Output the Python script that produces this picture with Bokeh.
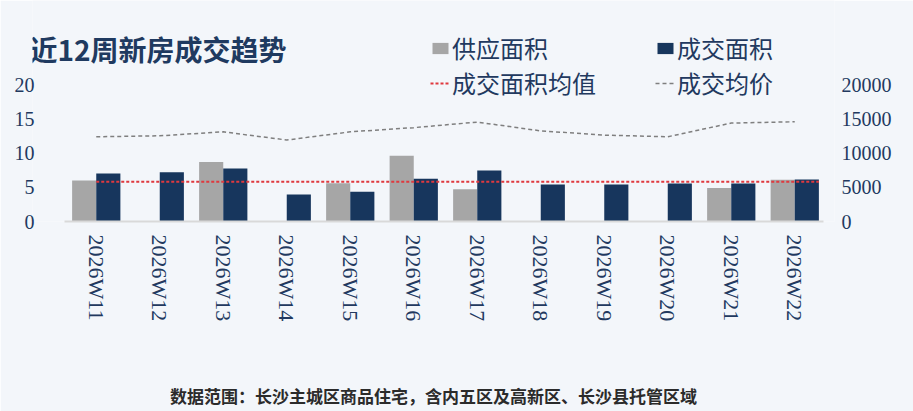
from bokeh.plotting import figure
from bokeh.models import (Range1d, LinearAxis, FixedTicker, Legend, LegendItem,
                          Label, ColumnDataSource)
from bokeh.embed import file_html
from bokeh.resources import INLINE
import math

# ---- data ----
weeks = ["2026W11", "2026W12", "2026W13", "2026W14", "2026W15", "2026W16",
         "2026W17", "2026W18", "2026W19", "2026W20", "2026W21", "2026W22"]
supply_area = [6.0, 0, 8.7, 0, 5.6, 9.6, 4.7, 0, 0, 0, 4.9, 6.1]
deal_area = [7.0, 7.2, 7.75, 3.95, 4.35, 6.25, 7.45, 5.4, 5.4, 5.55, 5.55, 6.15]
deal_area_avg = 5.8
avg_price = [12380, 12520, 13100, 11900, 13100, 13710, 14520, 13240, 12620,
             12380, 14380, 14570]
left_ticks = [0, 5, 10, 15, 20]
right_ticks = [0, 5000, 10000, 15000, 20000]

title_text = "近12周新房成交趋势"
legend_labels = ["供应面积", "成交面积", "成交面积均值", "成交均价"]
note_text = "数据范围：长沙主城区商品住宅，含内五区及高新区、长沙县托管区域"

BG = "#f3f6fa"
NAVY = "#17365d"
GRAY = "#a6a6a6"
TXT = "#22395f"

# frame extends above the 0-20 scale (up to the top edge) so that title and
# legend sit inside it
PX_PER_UNIT = 7.0
Y_TOP = 226 / PX_PER_UNIT
X_START, X_END = -1.004, 11.626

idx = list(range(len(weeks)))
src = ColumnDataSource(dict(x=idx, supply=supply_area, deal=deal_area,
                            price=avg_price,
                            xs=[i - 0.19 for i in idx], xd=[i + 0.19 for i in idx]))

p = figure(width=913, height=411, output_backend="svg", toolbar_location=None,
           x_range=Range1d(X_START, X_END), y_range=Range1d(0, Y_TOP),
           min_border_left=32, min_border_right=79, min_border_top=0,
           min_border_bottom=185, background_fill_color=BG,
           border_fill_color=BG, outline_line_color=None)
p.extra_y_ranges = {"price": Range1d(0, Y_TOP * 1000)}
p.xgrid.grid_line_color = None
p.ygrid.grid_line_color = None

r_sup = p.vbar(x="xs", top="supply", width=0.38, source=src, fill_color=GRAY,
               line_color=None)
r_deal = p.vbar(x="xd", top="deal", width=0.38, source=src, fill_color=NAVY,
                line_color=None)
r_avg = p.line(x=[idx[0], idx[-1] + 0.38], y=[deal_area_avg, deal_area_avg],
               line_color="#e0393e", line_width=2, line_dash="3 2")
r_price = p.line(x="x", y="price", source=src, y_range_name="price",
                 line_color="#7f7f7f", line_width=1.5, line_dash="4 3")

# axes
xa = p.xaxis[0]
xa.ticker = FixedTicker(ticks=idx)
xa.bounds = (idx[0] - 0.5, idx[-1] + 0.45)
xa.major_label_overrides = {i: w for i, w in zip(idx, weeks)}
xa.major_label_orientation = -math.pi / 2
xa.axis_line_color = "#d9d9d9"
xa.axis_line_width = 2
xa.major_tick_line_color = None
xa.minor_tick_line_color = None
xa.major_tick_out = 0
xa.major_label_standoff = 13
xa.major_label_text_font = "Liberation Serif"
xa.major_label_text_font_size = "22px"
xa.major_label_text_color = TXT
xa.axis_label = note_text
xa.axis_label_standoff = 59
xa.axis_label_text_font = "Noto Sans CJK SC"
xa.axis_label_text_font_style = "bold"
xa.axis_label_text_font_size = "17px"
xa.axis_label_text_color = "#2b2b2b"

ya = p.yaxis[0]
ya.ticker = FixedTicker(ticks=left_ticks)
ya.axis_line_color = None
ya.major_tick_line_color = None
ya.minor_tick_line_color = None
ya.major_tick_out = 0
ya.major_label_standoff = -2
ya.major_label_text_font = "Liberation Serif"
ya.major_label_text_font_size = "20px"
ya.major_label_text_color = TXT

ra = LinearAxis(y_range_name="price", ticker=FixedTicker(ticks=right_ticks))
ra.axis_line_color = None
ra.major_tick_line_color = None
ra.minor_tick_line_color = None
ra.major_tick_out = 0
ra.major_label_standoff = 7
ra.major_label_text_font = "Liberation Serif"
ra.major_label_text_font_size = "20px"
ra.major_label_text_color = TXT
p.add_layout(ra, "right")

# legend (inside the frame, top area)
legend = Legend(items=[LegendItem(label=legend_labels[0], renderers=[r_sup]),
                       LegendItem(label=legend_labels[1], renderers=[r_deal]),
                       LegendItem(label=legend_labels[2], renderers=[r_avg]),
                       LegendItem(label=legend_labels[3], renderers=[r_price])],
                orientation="horizontal", ncols=2, location=(398, 121),
                padding=0, margin=0, spacing=-4, glyph_width=20, glyph_height=14,
                label_standoff=2, label_width=203, label_height=14,
                background_fill_alpha=0, border_line_color=None,
                label_text_font="Noto Sans CJK SC",
                label_text_font_size="24px", label_text_color=TXT)
p.add_layout(legend, "center")

p.add_layout(Label(x=-3, y=173, x_units="screen", y_units="screen",
                   text=title_text, text_font="Noto Sans CJK SC",
                   text_font_style="bold", text_font_size="28px",
                   text_color="#1f3a60", text_baseline="middle"))

open("out.html", "w").write(file_html(p, INLINE))
